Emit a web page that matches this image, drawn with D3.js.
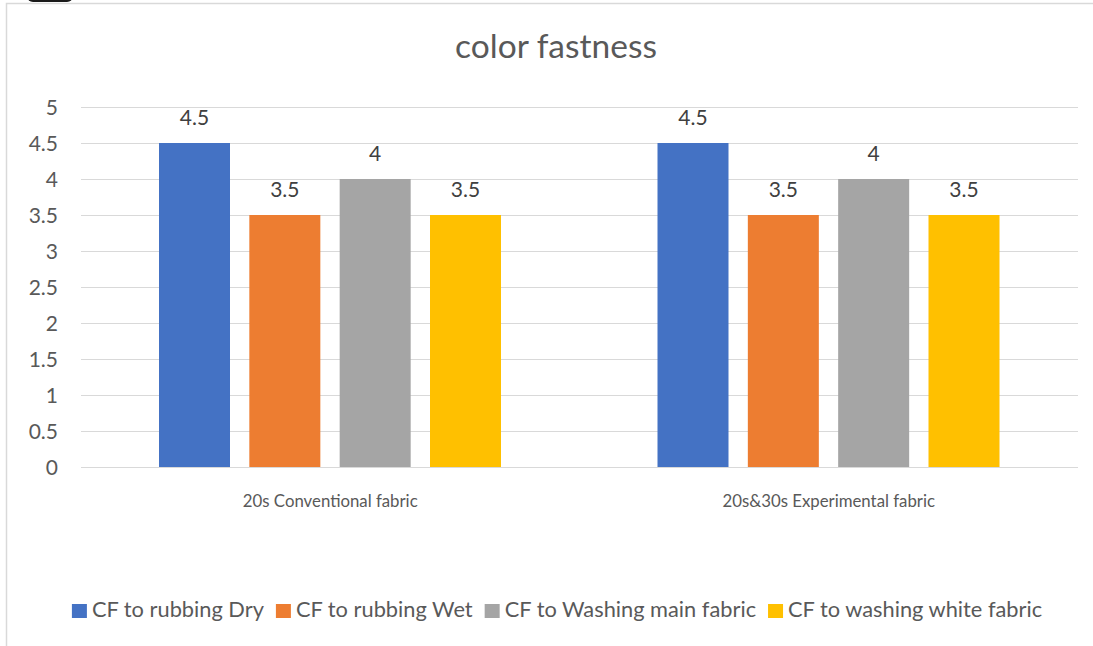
<!DOCTYPE html>
<html>
<head>
<meta charset="utf-8">
<script src="https://cdn.jsdelivr.net/npm/d3@7"></script>
<style>
  html, body { margin: 0; padding: 0; background: #fff; }
  svg { display: block; font-family: Lato, "Open Sans", sans-serif; }
</style>
</head>
<body>
<svg id="chart" width="1093" height="646"></svg>
<script>
const title = "color fastness";
const categories = ["20s Conventional fabric", "20s&30s Experimental fabric"];
const seriesNames = ["CF to rubbing Dry", "CF to rubbing Wet", "CF to Washing main fabric", "CF to washing white fabric"];
const seriesColors = ["#4472C4", "#ED7D31", "#A5A5A5", "#FFC000"];
const rubbingDry = [4.5, 4.5];
const rubbingWet = [3.5, 3.5];
const washingMain = [4, 4];
const washingWhite = [3.5, 3.5];
const yTicks = [0, 0.5, 1, 1.5, 2, 2.5, 3, 3.5, 4, 4.5, 5];

const seriesValues = [rubbingDry, rubbingWet, washingMain, washingWhite];
const textColor = "#595959";
const fmt = d3.format("~g");

const svg = d3.select("#chart");

// chart border (screenshot frame)
svg.append("path")
  .attr("d", "M6.5,646 V3.5 H1093")
  .attr("fill", "none").attr("stroke", "#d9d9d9").attr("stroke-width", 1.5);
svg.append("rect").attr("x", 27).attr("y", -10).attr("width", 46).attr("height", 12).attr("rx", 6).attr("fill", "#1a1a1a");

const x0 = d3.scaleBand().domain(categories).range([81, 1078]).paddingInner(0).paddingOuter(0);
const x1 = d3.scaleBand().domain(seriesNames).range([78, 420]).paddingInner(0.214).paddingOuter(0);
const y = d3.scaleLinear().domain([0, 5]).range([467, 107]);

// gridlines
svg.append("g").selectAll("line").data(yTicks).join("line")
  .attr("x1", 81).attr("x2", 1078)
  .attr("y1", d => Math.round(y(d)) + 0.5).attr("y2", d => Math.round(y(d)) + 0.5)
  .attr("stroke", "#d9d9d9").attr("stroke-width", 1);

// y axis labels
const yAxis = d3.axisLeft(y).tickValues(yTicks).tickSize(0).tickPadding(0).tickFormat(fmt);
const yg = svg.append("g").attr("transform", "translate(58,0)").call(yAxis)
  .attr("font-size", 21).attr("font-family", "Lato, sans-serif");
yg.select(".domain").remove();
yg.selectAll("text").style("font-size", "21px").attr("fill", textColor).attr("dy", "0.36em");

// bars
const groups = svg.append("g").selectAll("g").data(categories).join("g")
  .attr("transform", d => `translate(${x0(d)},0)`);
groups.each(function(cat, ci) {
  const g = d3.select(this);
  seriesNames.forEach((s, si) => {
    const v = seriesValues[si][ci];
    g.append("rect")
      .attr("x", x1(s)).attr("width", x1.bandwidth())
      .attr("y", y(v)).attr("height", y(0) - y(v))
      .attr("fill", seriesColors[si]);
    g.append("text")
      .attr("x", x1(s) + x1.bandwidth() / 2)
      .attr("y", y(v) - 18)
      .attr("text-anchor", "middle")
      .attr("fill", "#404040").style("font-size", "21px")
      .text(fmt(v));
  });
});

// baseline
svg.append("line").attr("x1", 81).attr("x2", 1078)
  .attr("y1", Math.round(y(0)) + 0.5).attr("y2", Math.round(y(0)) + 0.5)
  .attr("stroke", "#d9d9d9");

// category labels
const xAxis = d3.axisBottom(x0).tickSize(0).tickPadding(0);
const xg = svg.append("g").attr("transform", "translate(0,507)").call(xAxis)
  .attr("font-size", 16.8).attr("font-family", "Lato, sans-serif");
xg.select(".domain").remove();
xg.selectAll("text").style("font-size", "16.8px").attr("fill", textColor).attr("dy", 0);

// title
svg.append("text").attr("x", 556).attr("y", 58).attr("text-anchor", "middle")
  .attr("fill", textColor).style("font-size", "33.5px").text(title);

// legend
const legend = svg.append("g");
const items = legend.selectAll("g").data(seriesNames).join("g");
items.append("rect").attr("width", 15).attr("height", 14).attr("y", 604)
  .attr("fill", (d, i) => seriesColors[i]);
items.append("text").attr("x", 20).attr("y", 617).attr("fill", textColor)
  .style("font-size", "21.8px").text(d => d);
const widths = [];
items.each(function() {
  const w = d3.select(this).select("text").node().getComputedTextLength();
  widths.push(20 + w);
});
const gap = 12;
const total = d3.sum(widths) + gap * (widths.length - 1);
let cx = 557 - total / 2;
items.attr("transform", (d, i) => {
  const t = `translate(${cx},0)`;
  cx += widths[i] + gap;
  return t;
});
</script>
</body>
</html>
